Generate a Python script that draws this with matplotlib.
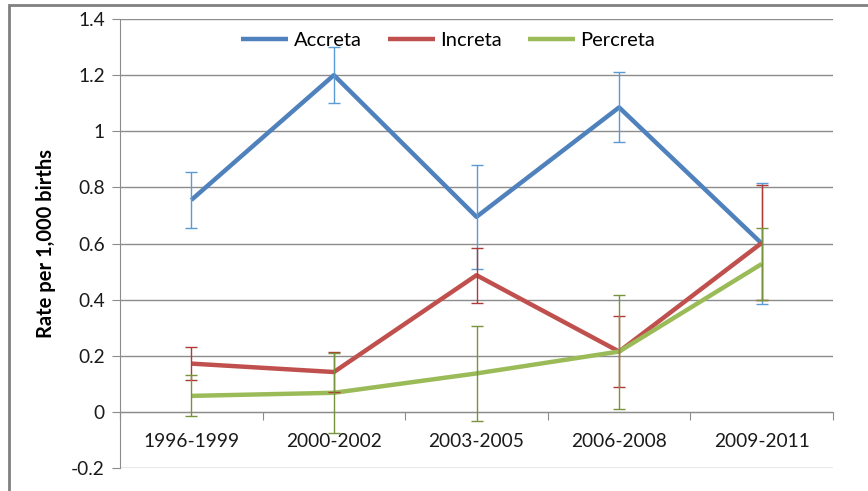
import numpy as np
import matplotlib
matplotlib.use("Agg")
import matplotlib.pyplot as plt
from matplotlib.patches import Rectangle

# データ
periods = ["1996-1999", "2000-2002", "2003-2005", "2006-2008", "2009-2011"]

accreta = [0.755, 1.20, 0.695, 1.085, 0.60]
accreta_err = [0.10, 0.10, 0.185, 0.125, 0.215]

increta = [0.172, 0.142, 0.487, 0.215, 0.602]
increta_err = [0.058, 0.07, 0.098, 0.125, 0.205]

percreta = [0.057, 0.068, 0.137, 0.215, 0.527]
percreta_err = [0.073, 0.143, 0.168, 0.203, 0.13]

plt.rcParams['font.family'] = ['Lato', 'DejaVu Sans']

fig = plt.figure(figsize=(8.68, 4.91), dpi=100)
ax = fig.add_axes([120 / 868, 1 - 468 / 491, 713 / 868, 449 / 491])

x = np.arange(len(periods))

series = [
    ("Accreta", accreta, accreta_err, "#4F81BD", "#5B9BD5"),
    ("Increta", increta, increta_err, "#C0504D", "#B03A36"),
    ("Percreta", percreta, percreta_err, "#9BBB59", "#77933C"),
]

for name, vals, errs, col, ecol in series:
    ax.plot(x, vals, color=col, linewidth=3.2, label=name, solid_capstyle='butt', zorder=3)
for name, vals, errs, col, ecol in series:
    ax.errorbar(x, vals, yerr=errs, fmt='none', ecolor=ecol, elinewidth=1.0,
                capsize=4.5, capthick=1.0, zorder=4)

ax.set_xlim(-0.5, 4.5)
ax.set_ylim(-0.2, 1.4)
yt = np.round(np.arange(-0.2, 1.41, 0.2), 1)
ax.set_yticks(yt)
ax.set_yticklabels(["0" if v == 0 else ("1" if v == 1 else f"{v:g}") for v in yt])
ax.yaxis.grid(True, color="#8C8C8C", linewidth=1.0, zorder=0)
ax.set_axisbelow(True)

# x軸は0の位置
for s in ["top", "right"]:
    ax.spines[s].set_visible(False)
ax.spines["left"].set_color("#8C8C8C")
ax.spines["bottom"].set_position(("data", 0))
ax.spines["bottom"].set_color("#8C8C8C")

ax.set_xticks(np.arange(-0.5, 4.6, 1.0))
ax.set_xticklabels([])
ax.set_xticks(x, minor=True)
ax.set_xticklabels(periods, minor=True)
ax.tick_params(axis='x', which='major', direction='out', length=6, color="#8C8C8C")
ax.tick_params(axis='x', which='minor', length=0, pad=15, labelsize=13.8, labelcolor="#1A1A1A")
ax.tick_params(axis='y', direction='out', length=6, color="#8C8C8C", pad=5,
               labelsize=13.8, labelcolor="#1A1A1A")

ax.set_ylabel("Rate per 1,000 births", fontsize=14.5, fontweight='bold', labelpad=11)

leg = ax.legend(loc='upper center', bbox_to_anchor=(0.46, 0.998), ncol=3, frameon=False,
                fontsize=14.5, handlelength=2.35, handletextpad=0.25, columnspacing=1.3,
                borderaxespad=0.2)

# 外枠
fig.add_artist(Rectangle((9 / 868, -0.1), 1.2, 1 - 5 / 491 + 0.1, transform=fig.transFigure,
                         fill=False, edgecolor="#808080", linewidth=2))

fig.savefig("out.png", dpi=100)
